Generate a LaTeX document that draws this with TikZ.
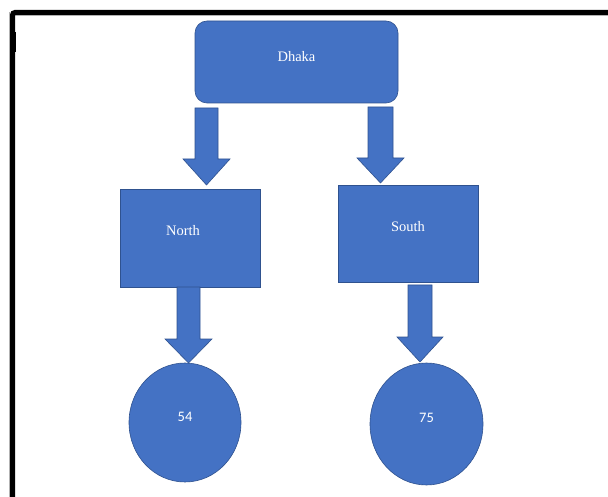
\documentclass[tikz,border=0pt]{standalone}
\usepackage{fontspec}
\setmainfont{Liberation Serif}
\newfontfamily\calibri{Carlito}
\definecolor{boxblue}{HTML}{4472C4}
\definecolor{edgeblue}{HTML}{2F528F}
\tikzset{
  shapebase/.style={fill=boxblue, draw=edgeblue, line width=0.6pt, inner sep=0pt},
  bluebox/.style={shapebase, rectangle},
  roundbox/.style={shapebase, rectangle, rounded corners=12pt},
  bluecirc/.style={shapebase, ellipse},
  seriftxt/.style={text=white, font=\fontsize{14.5}{16}\selectfont, inner sep=0pt},
  sanstxt/.style={text=white, font=\calibri\fontsize{14.5}{16}\selectfont, inner sep=0pt},
  blockarr/.style={fill=boxblue, draw=edgeblue, line width=0.6pt, line join=miter}
}
\usetikzlibrary{shapes.geometric}
\newcommand\barrow[6]{% cx, top, headY, tip, halfshaft, halfhead
  \filldraw[blockarr] (#1-#5,#2) -- (#1+#5,#2) -- (#1+#5,#3) -- (#1+#6,#3) -- (#1,#4)
    -- (#1-#6,#3) -- (#1-#5,#3) -- cycle;}
\begin{document}
\begin{tikzpicture}[x=1pt,y=-1pt]
\useasboundingbox (0,0) rectangle (608,497);
% frame
\draw[gray!60, line width=0.8pt] (9.6,497) -- (9.6,12.5);
\draw[gray!60, line width=0.8pt] (12.5,15.6) -- (608,15.6);
\draw[black, line width=5pt, rounded corners=2.5pt] (12.5,497) -- (12.5,12.5) -- (608,12.5);
\fill[black] (14,32) rectangle (16,52);
% nodes
\node[roundbox, minimum width=203pt, minimum height=82pt,
      label={[seriftxt, yshift=5pt]center:Dhaka}] (dhaka) at (296.5,62) {};
\node[bluebox, minimum width=140pt, minimum height=98pt,
      label={[seriftxt, xshift=-7pt, yshift=7pt]center:North}] (north) at (190,238) {};
\node[bluebox, minimum width=140pt, minimum height=97pt,
      label={[seriftxt, yshift=6.5pt]center:South}] (south) at (408,233.5) {};
\node[bluecirc, minimum width=112pt, minimum height=119pt,
      label={[sanstxt, yshift=5.5pt]center:54}] (c54) at (185,422.5) {};
\node[bluecirc, minimum width=113pt, minimum height=122pt,
      label={[sanstxt, yshift=6pt]center:75}] (c75) at (426.5,424) {};
% block arrows
\barrow{206.5}{108}{159}{185}{11.5}{23.5}
\barrow{380.5}{107}{158}{183}{12.5}{23.5}
\barrow{188.5}{287}{339}{363}{11.5}{23.5}
\barrow{420}{285}{337}{362}{12}{23}
\end{tikzpicture}
\end{document}
